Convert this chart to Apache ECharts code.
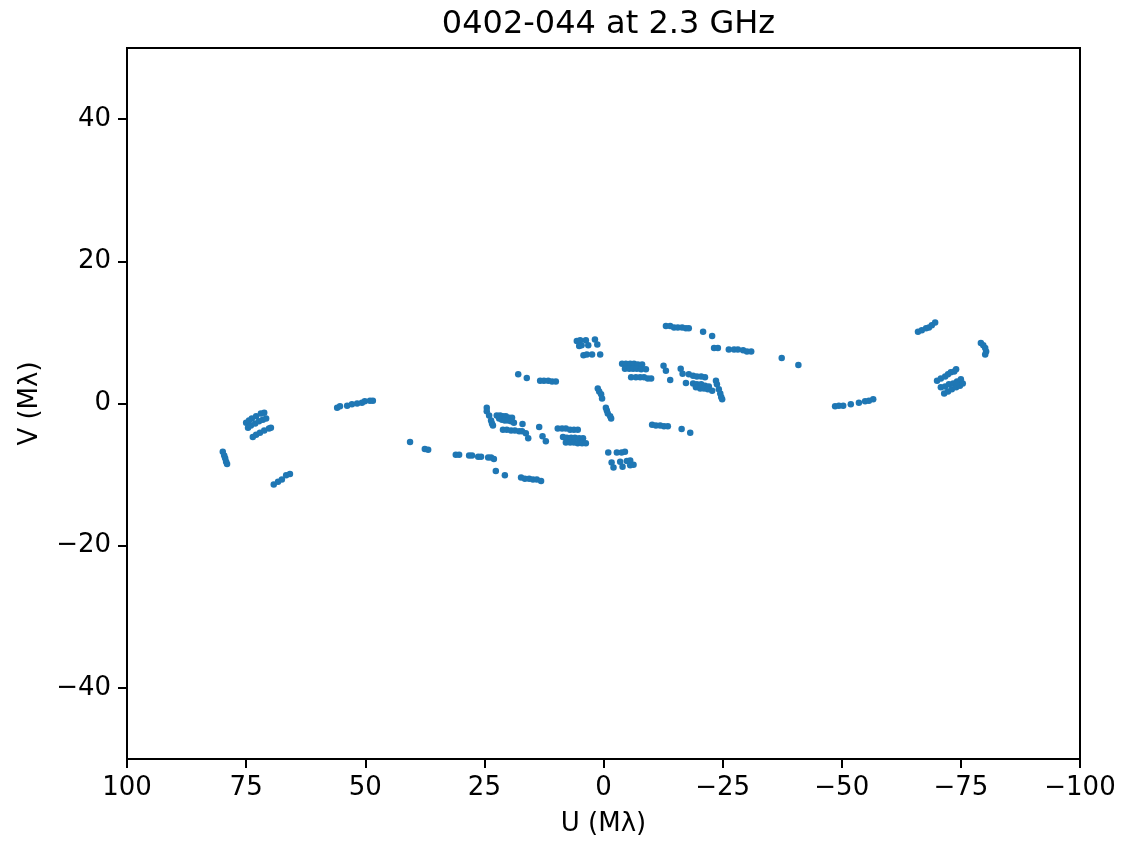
<!DOCTYPE html>
<html>
<head>
<meta charset="utf-8">
<title>0402-044 at 2.3 GHz</title>
<script src="https://cdn.jsdelivr.net/npm/echarts@6/dist/echarts.min.js"></script>
<style>
  html, body { margin: 0; padding: 0; background: #ffffff; }
  #chart { width: 1122px; height: 842px; }
</style>
</head>
<body>
<div id="chart"></div>
<script>
// uv-coverage samples, [U, V] in mega-wavelengths, grouped roughly by region of the plane
const westArcs = [
  [79.9,-6.8],[79.6,-7.3],[79.4,-7.7],[79.2,-8.2],[79.0,-8.5],
  [69.2,-11.4],[68.3,-11.0],[67.5,-10.7],[66.6,-10.1],[65.8,-9.9]
];
const westTriplet = [
  [75.0,-2.7],[74.4,-2.4],[73.8,-2.1],[72.9,-1.8],[71.9,-1.4],[71.2,-1.3],
  [74.6,-3.4],[74.0,-3.1],[73.1,-2.8],[72.3,-2.5],[71.5,-2.3],[70.8,-2.1],
  [73.6,-4.7],[72.9,-4.4],[72.1,-4.1],[71.2,-3.8],[70.2,-3.5],[69.8,-3.4]
];
const westMid = [
  [55.9,-0.6],[55.3,-0.4],[53.8,-0.3],[52.8,-0.1],[51.7,0.0],[50.7,0.1],[50.1,0.3],[49.0,0.4],[48.4,0.4],
  [40.6,-5.4],[37.5,-6.4],[36.8,-6.5],
  [31.0,-7.2],[30.3,-7.2],[28.2,-7.3],[27.6,-7.3],[26.3,-7.5],[25.7,-7.5],[24.2,-7.6],[23.6,-7.6],[23.0,-7.8],
  [22.6,-9.5],[20.7,-10.1],
  [17.3,-10.4],[16.5,-10.6],[15.6,-10.6],[14.8,-10.7],[14.0,-10.7],[13.1,-10.9]
];
const innerWest = [
  [17.9,4.1],[16.1,3.6],
  [13.3,3.2],[12.5,3.2],[11.6,3.2],[10.8,3.1],[10.0,3.1],
  [24.5,-0.6],[24.5,-1.1],[24.0,-1.7],[23.6,-2.4],[23.4,-2.8],[23.2,-3.1],
  [22.4,-1.7],[21.7,-1.7],[21.1,-1.8],[20.5,-1.8],[19.8,-2.0],[19.2,-2.0],
  [21.9,-2.1],[21.3,-2.3],[20.7,-2.4],[20.0,-2.4],[19.4,-2.5],[18.8,-2.7],
  [17.0,-2.9],
  [21.1,-3.7],[20.3,-3.7],[19.4,-3.8],[18.6,-3.8],[17.7,-3.9],[17.1,-3.9],
  [16.3,-4.2],[15.8,-4.9],
  [13.5,-3.3],[12.8,-4.6],[12.1,-5.3],
  [9.6,-3.5],[8.7,-3.5],[7.9,-3.5],[7.0,-3.7],[6.2,-3.7],[5.4,-3.7],
  [8.5,-4.7],[7.7,-4.8],[6.8,-4.8],[6.0,-4.8],[5.1,-4.9],[4.3,-4.9],
  [7.9,-5.5],[7.0,-5.5],[6.2,-5.5],[5.4,-5.6],[4.5,-5.6],[3.7,-5.6]
];
const nearOrigin = [
  [5.6,8.8],[4.9,8.9],[3.7,8.9],[1.8,9.0],
  [5.1,8.1],[4.6,8.2],[3.2,8.2],[1.3,8.3],
  [4.2,6.8],[3.5,6.9],[2.4,6.9],[0.7,6.9],
  [1.2,2.1],[0.9,1.7],[0.5,1.3],[0.3,0.7],
  [-0.5,-0.6],[-0.7,-1.0],[-0.9,-1.4],[-1.4,-1.8],[-1.6,-2.1],
  [-1.0,-6.9],[-2.8,-6.9],[-3.8,-6.9],[-4.5,-6.8],
  [-1.7,-8.3],[-3.5,-8.2],[-4.9,-8.1],[-5.6,-8.0],
  [-2.1,-9.0],[-4.0,-8.9],[-5.6,-8.7],[-6.3,-8.6]
];
const innerEast = [
  [-3.9,5.6],[-4.7,5.6],[-5.6,5.6],[-6.4,5.6],[-7.2,5.5],[-8.1,5.5],
  [-4.5,4.9],[-5.4,4.9],[-6.2,4.9],[-7.0,4.9],[-7.9,4.8],[-8.9,4.8],
  [-5.8,3.7],[-6.8,3.7],[-7.7,3.7],[-8.5,3.7],[-9.3,3.5],[-10.0,3.5],
  [-12.6,5.3],[-13.1,4.6],[-14.0,3.3],
  [-16.2,4.9],[-16.6,4.2],[-17.3,2.9],
  [-17.9,4.1],[-18.8,3.9],[-19.6,3.8],[-20.5,3.8],[-21.3,3.7],
  [-18.8,2.8],[-19.6,2.7],[-20.5,2.7],[-21.3,2.5],[-22.1,2.4],
  [-19.4,2.3],[-20.3,2.1],[-21.1,2.1],[-21.9,2.0],[-22.8,1.8],
  [-23.6,3.2],[-23.8,2.7],[-24.2,2.0],[-24.5,1.4],[-24.7,0.9],[-24.9,0.6],
  [-10.2,-3.0],[-11.0,-3.1],[-11.9,-3.1],[-12.7,-3.2],[-13.5,-3.2],
  [-16.4,-3.6],[-18.2,-4.1]
];
const eastMid = [
  [-13.1,10.9],[-14.0,10.9],[-14.8,10.7],[-15.6,10.7],[-16.5,10.7],[-17.3,10.6],[-17.9,10.6],
  [-20.9,10.1],[-22.8,9.5],
  [-23.2,7.8],[-24.0,7.8],[-26.3,7.6],[-27.4,7.6],[-28.2,7.6],[-29.3,7.5],[-30.1,7.3],[-31.0,7.3],
  [-37.4,6.4],[-40.9,5.4],
  [-48.6,-0.4],[-49.4,-0.3],[-50.3,-0.3],[-51.9,-0.1],[-53.6,0.1],[-54.9,0.3],[-55.7,0.4],[-56.6,0.6]
];
const eastArcs = [
  [-66.0,10.1],[-66.8,10.3],[-67.7,10.6],[-68.3,10.7],[-68.9,11.0],[-69.6,11.4],
  [-79.2,8.5],[-79.7,8.2],[-80.1,7.8],[-80.3,7.3],[-80.1,6.9],
  [-70.0,3.2],[-70.8,3.5],[-71.7,3.8],[-72.3,4.1],[-72.9,4.4],[-73.6,4.5],[-74.0,4.8],
  [-70.8,2.3],[-71.7,2.4],[-72.5,2.7],[-73.4,2.8],[-74.2,3.1],[-75.0,3.4],
  [-71.5,1.4],[-72.3,1.7],[-73.1,2.0],[-74.0,2.3],[-74.8,2.5],[-75.4,2.8]
];

const uTicks = [100, 75, 50, 25, 0, -25, -50, -75, -100];
const vTicks = [-40, -20, 0, 20, 40];

const chartTitle = '0402-044 at 2.3 GHz';
const uLabel = 'U (M\u03bb)';
const vLabel = 'V (M\u03bb)';

const allPoints = [].concat(westArcs, westTriplet, westMid, innerWest, nearOrigin, innerEast, eastMid, eastArcs);

const fontFamily = '"DejaVu Sans", sans-serif';
const minusSign = v => String(v).replace('-', '\u2212');

const chart = echarts.init(document.getElementById('chart'), null, { renderer: 'canvas' });
chart.setOption({
  animation: false,
  backgroundColor: '#ffffff',
  title: {
    text: chartTitle,
    left: 603.5,
    top: 4,
    textAlign: 'center',
    textStyle: { fontFamily: fontFamily, fontSize: 32, fontWeight: 'normal', color: '#000000' }
  },
  grid: {
    left: 127, right: 42, top: 48, bottom: 83,
    show: true, borderColor: '#000000', borderWidth: 2, backgroundColor: 'transparent'
  },
  xAxis: {
    type: 'value',
    inverse: true,
    min: -100, max: 100, interval: 25,
    name: uLabel,
    nameLocation: 'middle',
    nameGap: 52,
    nameTextStyle: { fontFamily: fontFamily, fontSize: 26, color: '#000000' },
    axisLine: { show: true, onZero: false, lineStyle: { color: '#000000', width: 2 } },
    axisTick: { show: true, inside: false, length: 9, lineStyle: { color: '#000000', width: 2 } },
    axisLabel: {
      customValues: uTicks,
      margin: 16, fontFamily: fontFamily, fontSize: 26, color: '#000000',
      formatter: minusSign
    },
    splitLine: { show: false }
  },
  yAxis: {
    type: 'value',
    min: -50, max: 50,
    name: vLabel,
    nameLocation: 'middle',
    nameGap: 84,
    nameRotate: 90,
    nameTextStyle: { fontFamily: fontFamily, fontSize: 26, color: '#000000' },
    axisLine: { show: true, onZero: false, lineStyle: { color: '#000000', width: 2 } },
    axisTick: { show: true, inside: false, length: 9, customValues: vTicks, lineStyle: { color: '#000000', width: 2 } },
    axisLabel: {
      customValues: vTicks,
      margin: 16, fontFamily: fontFamily, fontSize: 26, color: '#000000',
      formatter: minusSign
    },
    splitLine: { show: false }
  },
  series: [{
    type: 'scatter',
    data: allPoints,
    symbol: 'circle',
    symbolSize: 6.5,
    itemStyle: { color: '#1f77b4', opacity: 1 },
    emphasis: { disabled: true }
  }]
});
</script>
</body>
</html>
